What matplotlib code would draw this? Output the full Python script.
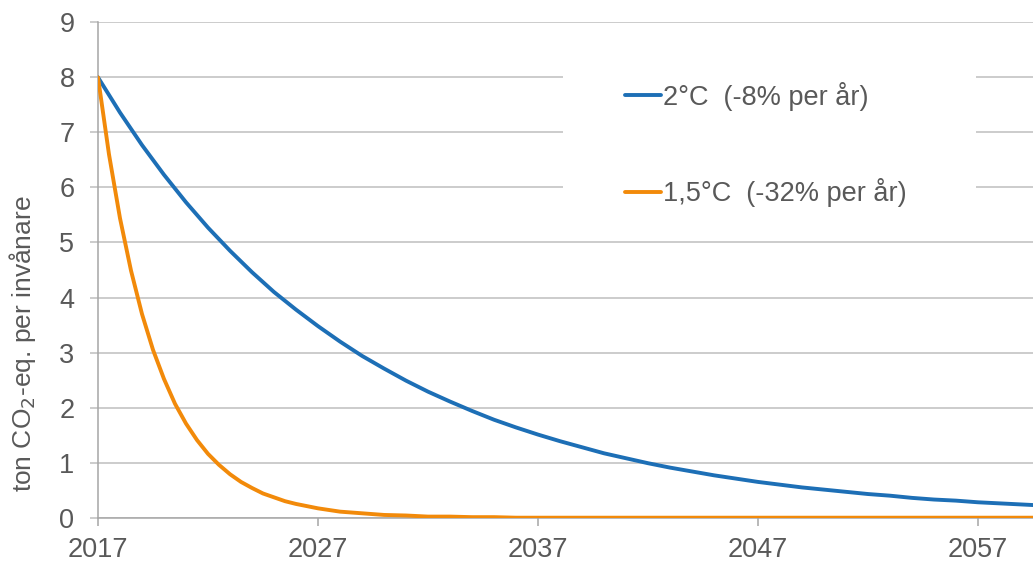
import matplotlib.pyplot as plt
from matplotlib.patches import Rectangle

plt.rcParams['font.family'] = ['Liberation Sans', 'DejaVu Sans']

# years 2017..2060
years = list(range(2017, 2061))

# 2 degree path, roughly -8% per year (ton CO2-eq per person)
two_deg = [8.00, 7.36, 6.77, 6.23, 5.73, 5.27, 4.85, 4.46, 4.10, 3.78,
           3.48, 3.20, 2.94, 2.71, 2.49, 2.29, 2.11, 1.94, 1.78, 1.64,
           1.51, 1.39, 1.28, 1.17, 1.08, 0.99, 0.91, 0.84, 0.77, 0.71,
           0.65, 0.60, 0.55, 0.51, 0.47, 0.43, 0.40, 0.36, 0.33, 0.31,
           0.28, 0.26, 0.24, 0.22]

# 1.5 degree path, roughly -32% per year, read every half year while it drops fast
years_15 = [2017, 2017.5, 2018, 2018.5, 2019, 2019.5, 2020, 2020.5, 2021, 2021.5,
            2022, 2022.5, 2023, 2023.5, 2024, 2024.5, 2025, 2025.5, 2026, 2026.5,
            2027, 2028, 2029, 2030, 2031, 2032, 2033, 2034, 2035, 2036,
            2040, 2045, 2050, 2055, 2060]
one_five = [8.00, 6.60, 5.44, 4.49, 3.70, 3.05, 2.52, 2.07, 1.71, 1.41,
            1.16, 0.96, 0.79, 0.65, 0.54, 0.44, 0.37, 0.30, 0.25, 0.21,
            0.17, 0.11, 0.08, 0.05, 0.04, 0.02, 0.02, 0.01, 0.01, 0.00,
            0.00, 0.00, 0.00, 0.00, 0.00]

labels = ['2°C  (-8% per år)', '1,5°C  (-32% per år)']
xticks = [2017, 2027, 2037, 2047, 2057]
yticks = list(range(0, 10))

text_col = '#595959'
grid_col = '#BFBFBF'
axis_col = '#A6A6A6'

fig = plt.figure(figsize=(10.33, 5.65), dpi=100)
ax = fig.add_axes([98 / 1033, 1 - 517.7 / 565, 1 - 98 / 1033, (517.7 - 22.3) / 565])

ax.plot(years, two_deg, color='#1D6FB6', lw=2.8, label=labels[0], zorder=3,
        solid_capstyle='round', solid_joinstyle='round')
ax.plot(years_15, one_five, color='#F28A0A', lw=2.8, label=labels[1], zorder=3,
        solid_capstyle='round', solid_joinstyle='round')

ax.set_xlim(2017, 2059.5)
ax.set_ylim(0, 9)
ax.set_xticks(xticks)
ax.set_yticks(yticks)

ax.set_axisbelow(True)
ax.yaxis.grid(True, color=grid_col, lw=1.1)
for s in ['top', 'right']:
    ax.spines[s].set_visible(False)
for s in ['left', 'bottom']:
    ax.spines[s].set_color(axis_col)
    ax.spines[s].set_linewidth(1.1)
    ax.spines[s].set_zorder(2)

ax.tick_params(axis='x', colors=axis_col, length=6, width=1.1, pad=8,
               labelcolor=text_col, labelsize=19.5)
ax.tick_params(axis='y', colors=grid_col, length=6, width=1.1, pad=11,
               labelcolor=text_col, labelsize=19.5)

# white box behind the legend covering the gridlines
ax.add_patch(Rectangle((0.497, 0.591), 0.442, 0.343, transform=ax.transAxes,
                       facecolor='white', edgecolor='none', zorder=1.5))

ax.legend(loc='center left', bbox_to_anchor=(0.5636, 0.7533), frameon=False,
          fontsize=19.5, labelcolor=text_col, handlelength=1.33,
          handletextpad=0.08, labelspacing=2.48, borderpad=0, borderaxespad=0)

fig.text(23 / 1033, 1 - 344 / 565, 'ton CO$_2$-eq. per invånare', rotation=90,
         ha='center', va='center', fontsize=19, color=text_col)

fig.savefig('out.png', dpi=100)
